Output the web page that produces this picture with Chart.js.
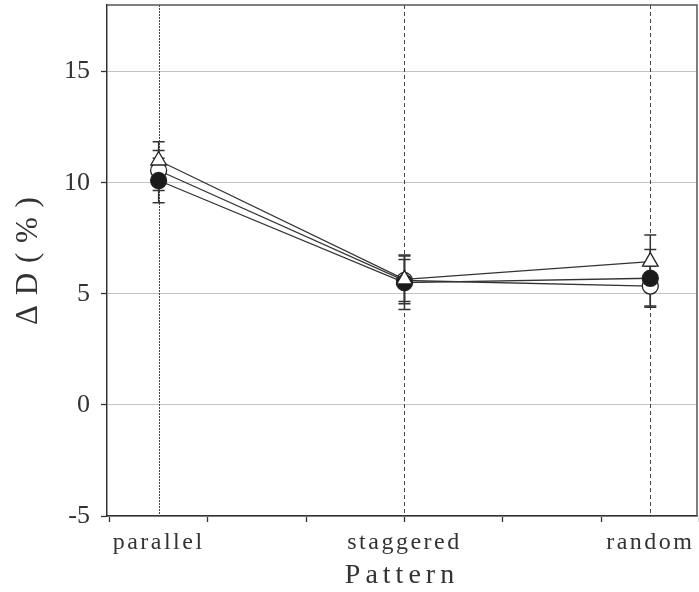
<!DOCTYPE html>
<html>
<head>
<meta charset="utf-8">
<script src="https://cdn.jsdelivr.net/npm/chart.js@4.4.0/dist/chart.umd.min.js"></script>
<style>
  html, body { margin: 0; padding: 0; background: #fff; }
</style>
</head>
<body>
<canvas id="chart" width="699" height="592"></canvas>
<script>
// categories on a numeric x axis
const patterns = ['parallel', 'staggered', 'random'];
const patternPos = [1, 2, 3];
const minorTicks = [0.8, 1.2, 1.6, 2.0, 2.4, 2.8, 3.2];
const yTicks = [-5, 0, 5, 10, 15];

// ΔD (%) per pattern, three series with error bars
const triValues = [11.0, 5.65, 6.45];
const triErr = [0.85, 1.1, 1.2];
const filledValues = [10.1, 5.5, 5.7];
const filledErr = [1.0, 1.2, 1.3];
const openValues = [10.55, 5.6, 5.35];
const openErr = [0.9, 0.95, 0.9];

const ink = '#333';
const serif = 'Liberation Serif';

const toPoints = vals => vals.map((v, i) => ({ x: patternPos[i], y: v }));

// letter spacing per scale: [tick labels, title]
const spacing = { x: [2.5, 5], y: [0, 1] };

const extras = {
    id: 'extras',
    beforeDraw(chart) {
        Object.values(chart.scales).forEach(s => {
            if (s._spaced) return;
            s._spaced = true;
            const sp = spacing[s.id] || [0, 0];
            const drawLabels = s.drawLabels.bind(s);
            const drawTitle = s.drawTitle.bind(s);
            s.drawLabels = area => { s.ctx.letterSpacing = sp[0] + 'px'; drawLabels(area); s.ctx.letterSpacing = '0px'; };
            s.drawTitle = () => { s.ctx.letterSpacing = sp[1] + 'px'; drawTitle(); s.ctx.letterSpacing = '0px'; };
        });
    },
    beforeDatasetsDraw(chart) {
        const { ctx, chartArea: a, scales: { x, y } } = chart;
        ctx.save();
        ctx.letterSpacing = '0px';
        // vertical lines at each pattern
        ctx.strokeStyle = '#444';
        ctx.lineWidth = 1;
        patternPos.forEach((p, i) => {
            ctx.setLineDash(i === 0 ? [2, 1] : [4, 3]);
            const px = Math.round(x.getPixelForValue(p)) + 0.5;
            ctx.beginPath();
            ctx.moveTo(px, a.top);
            ctx.lineTo(px, a.bottom);
            ctx.stroke();
        });
        ctx.setLineDash([]);
        // error bars
        ctx.strokeStyle = ink;
        ctx.lineWidth = 1.5;
        chart.data.datasets.forEach(ds => {
            ds.data.forEach((pt, i) => {
                const px = x.getPixelForValue(pt.x);
                const top = y.getPixelForValue(pt.y + ds.errors[i]);
                const bot = y.getPixelForValue(pt.y - ds.errors[i]);
                ctx.beginPath();
                ctx.moveTo(px, top); ctx.lineTo(px, bot);
                ctx.moveTo(px - 6, top); ctx.lineTo(px + 6, top);
                ctx.moveTo(px - 6, bot); ctx.lineTo(px + 6, bot);
                ctx.stroke();
            });
        });
        ctx.restore();
    },
    afterDraw(chart) {
        const { ctx, chartArea: a } = chart;
        ctx.save();
        ctx.strokeStyle = '#555';
        ctx.lineWidth = 1.5;
        ctx.beginPath();
        ctx.moveTo(a.left, a.top);
        ctx.lineTo(a.right, a.top);
        ctx.lineTo(a.right, a.bottom);
        ctx.stroke();
        ctx.restore();
    }
};

const common = {
    borderColor: ink,
    borderWidth: 1.3,
    pointBorderColor: '#222',
    pointBorderWidth: 1.3,
    fill: false,
    tension: 0
};

new Chart(document.getElementById('chart').getContext('2d'), {
    type: 'line',
    data: {
        datasets: [
            { ...common, label: 'triangle', data: toPoints(triValues), errors: triErr,
              pointStyle: 'triangle', pointRadius: 9, pointBackgroundColor: '#fff' },
            { ...common, label: 'filled', data: toPoints(filledValues), errors: filledErr,
              pointStyle: 'circle', pointRadius: 8, pointBackgroundColor: '#1a1a1a' },
            { ...common, label: 'open', data: toPoints(openValues), errors: openErr,
              pointStyle: 'circle', pointRadius: 8, pointBackgroundColor: '#fff' }
        ]
    },
    options: {
        responsive: false,
        animation: false,
        layout: { autoPadding: false, padding: { top: 5, right: 2, left: 0, bottom: 0 } },
        plugins: { legend: { display: false }, tooltip: { enabled: false } },
        scales: {
            x: {
                type: 'linear',
                min: 0.79,
                max: 3.19,
                afterBuildTicks: scale => {
                    const vals = [...new Set([...minorTicks, ...patternPos])].sort((a, b) => a - b);
                    scale.ticks = vals.map(v => ({ value: v }));
                },
                afterFit: scale => {
                    scale.height = 76;
                    scale.paddingLeft = 0;
                    scale.paddingRight = 0;
                },
                ticks: {
                    autoSkip: false,
                    maxRotation: 0,
                    padding: 6,
                    color: ink,
                    font: { family: serif, size: 24 },
                    callback: v => {
                        const i = patternPos.indexOf(v);
                        return i >= 0 ? patterns[i] : '';
                    }
                },
                grid: {
                    drawOnChartArea: false,
                    tickLength: 6,
                    tickWidth: 1.3,
                    tickColor: c => (c.tick && minorTicks.includes(c.tick.value)) ? ink : 'transparent'
                },
                border: { color: ink, width: 1.5 },
                title: {
                    display: true,
                    text: 'Pattern',
                    color: ink,
                    font: { family: serif, size: 28 },
                    padding: { top: 0, bottom: 0 }
                }
            },
            y: {
                min: -5,
                max: 18,
                afterBuildTicks: scale => { scale.ticks = yTicks.map(v => ({ value: v })); },
                afterFit: scale => {
                    scale.width = 107;
                    scale.paddingTop = 0;
                    scale.paddingBottom = 0;
                },
                ticks: {
                    padding: 11,
                    color: ink,
                    font: { family: serif, size: 26 }
                },
                grid: {
                    color: '#c4c4c4',
                    lineWidth: 1,
                    tickLength: 6,
                    tickWidth: 1.3,
                    tickColor: ink
                },
                border: { color: ink, width: 1.5 },
                title: {
                    display: true,
                    text: 'Δ D ( % )',
                    color: ink,
                    font: { family: serif, size: 31 },
                    padding: { top: 10, bottom: 0 }
                }
            }
        }
    },
    plugins: [extras]
});
</script>
</body>
</html>
